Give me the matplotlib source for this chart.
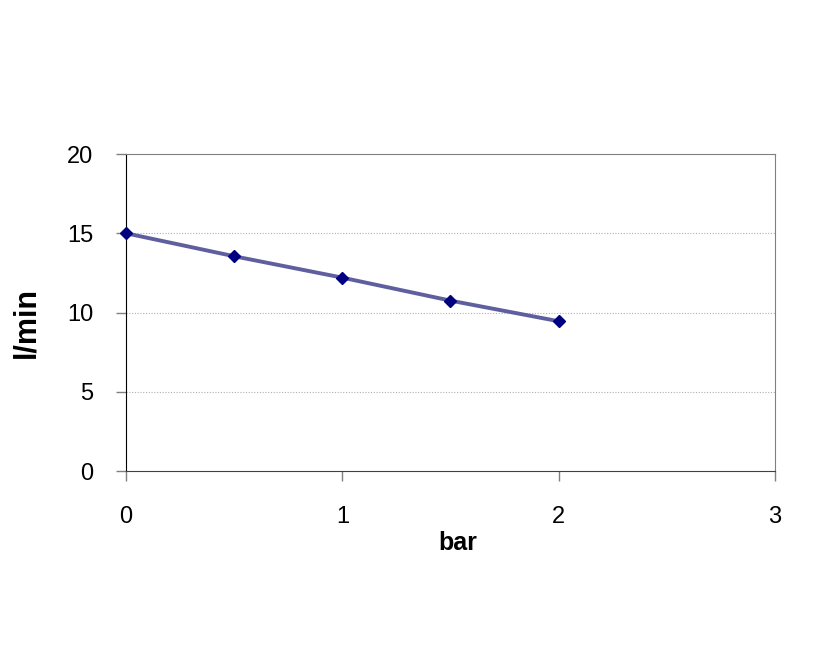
import matplotlib.pyplot as plt

# Data
pressure_bar = [0, 0.5, 1, 1.5, 2]
flow_lpm = [15, 13.55, 12.2, 10.75, 9.45]

x_ticks = [0, 1, 2, 3]
y_ticks = [0, 5, 10, 15, 20]

plt.rcParams['font.family'] = ['Liberation Sans', 'DejaVu Sans']

fig = plt.figure(figsize=(8.24, 6.54), dpi=100)
ax = fig.add_axes([0.1529, 0.2798, 0.7876, 0.4847])

# Gridlines
for y in y_ticks[1:-1]:
    ax.axhline(y, color='#b0b0b0', linestyle=(0, (1, 1.5)), linewidth=0.8, zorder=0)

ax.plot(pressure_bar, flow_lpm, color='#5f5f9f', linewidth=2.8,
        marker='D', markersize=6, markerfacecolor='#000080',
        markeredgecolor='#000080', zorder=3, clip_on=False)

ax.set_xlim(0, 3)
ax.set_ylim(0, 20)
ax.set_xticks(x_ticks)
ax.set_yticks(y_ticks)
ax.tick_params(axis='both', direction='out', width=1, labelsize=17,
               color='#808080')
ax.tick_params(axis='x', length=7, pad=18)
ax.tick_params(axis='y', length=7.5, pad=16)

ax.spines['left'].set_color('#000000')
ax.spines['bottom'].set_color('#404040')
ax.spines['top'].set_color('#808080')
ax.spines['right'].set_color('#808080')

ax.set_xlabel('bar', fontsize=18, fontweight='bold')
ax.xaxis.set_label_coords(0.511, -0.19)
ax.xaxis.label.set_va('top')
ax.set_ylabel('l/min', fontsize=22, fontweight='bold')
ax.yaxis.label.set_va('center')
ax.yaxis.set_label_coords(-0.153, 0.467)

fig.savefig('out.png', dpi=100)
